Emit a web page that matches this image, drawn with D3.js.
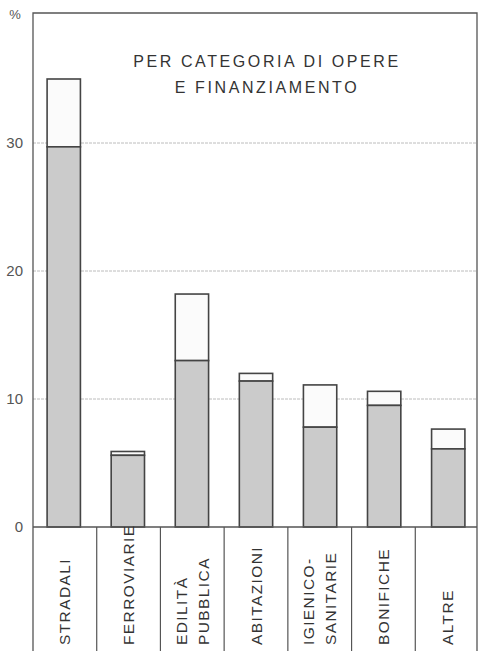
<!DOCTYPE html>
<html><head><meta charset="utf-8">
<script src="https://cdn.jsdelivr.net/npm/d3@7"></script>
<style>
html,body{margin:0;padding:0;background:#fff;}
svg text{font-family:"Liberation Sans",Arial,sans-serif;}
</style></head>
<body>
<svg id="c" width="484" height="651"></svg>
<script>
const categories = ["STRADALI","FERROVIARIE","EDILITÀ\nPUBBLICA","ABITAZIONI","IGIENICO-\nSANITARIE","BONIFICHE","ALTRE"];
const baseValues  = [29.7, 5.6, 13.0, 11.4, 7.8, 9.5, 6.1];   // grey part
const totalValues = [35.0, 5.9, 18.2, 12.0, 11.1, 10.6, 7.65]; // full bar height
const yTicks = [0, 10, 20, 30];
const titleLines = ["PER CATEGORIA DI OPERE", "E FINANZIAMENTO"];

const svg = d3.select("#c");
const W = 484, H = 651;
const mLeft = 33, mRight = 477, mTop = 13, base = 527;

const y = d3.scaleLinear().domain([0, 30]).range([base, 143]);
const xCell = d3.scaleBand().domain(categories).range([mLeft, 479]).padding(0);
const xBar = d3.scaleBand().domain(categories).range([mLeft, 479]).paddingInner(0.48).paddingOuter(0.22);

// gridlines
const grid = svg.append("g");
grid.selectAll("line").data(yTicks.filter(d => d > 0)).join("line")
  .attr("x1", mLeft).attr("x2", mRight)
  .attr("y1", d => y(d)).attr("y2", d => y(d))
  .attr("stroke", "#bcbcbc").attr("stroke-width", 1).attr("stroke-dasharray", "3,1");

// y axis labels
const yAxis = d3.axisLeft(y).tickValues(yTicks).tickSize(0).tickPadding(10);
const ya = svg.append("g").attr("transform", `translate(${mLeft},0)`).call(yAxis);
ya.select(".domain").remove();
ya.selectAll("text").attr("font-size", 15).attr("fill", "#555").attr("font-family", "Liberation Sans, Arial, sans-serif");

svg.append("text").attr("x", 15).attr("y", 19).attr("text-anchor", "middle")
  .attr("font-size", 13).attr("fill", "#555").text("%");

// bars
const bars = svg.append("g");
const data = categories.map((c, i) => ({c, b: baseValues[i], t: totalValues[i]}));
bars.selectAll("rect.top").data(data).join("rect").attr("class", "top")
  .attr("x", d => xBar(d.c)).attr("width", xBar.bandwidth())
  .attr("y", d => y(d.t)).attr("height", d => y(d.b) - y(d.t))
  .attr("fill", "#fbfbfb").attr("stroke", "#444").attr("stroke-width", 1.6);
bars.selectAll("rect.base").data(data).join("rect").attr("class", "base")
  .attr("x", d => xBar(d.c)).attr("width", xBar.bandwidth())
  .attr("y", d => y(d.b)).attr("height", d => base - y(d.b))
  .attr("fill", "#cbcbcb").attr("stroke", "#444").attr("stroke-width", 1.6);

// frame
svg.append("path")
  .attr("d", `M${mLeft},${H} V${mTop} H${mRight} V${H}`)
  .attr("fill", "none").attr("stroke", "#555").attr("stroke-width", 1.3);
svg.append("line").attr("x1", mLeft).attr("x2", mRight).attr("y1", base).attr("y2", base)
  .attr("stroke", "#555").attr("stroke-width", 1.5);

// category cells separators
svg.append("g").selectAll("line").data(categories.slice(1)).join("line")
  .attr("x1", d => xCell(d)).attr("x2", d => xCell(d))
  .attr("y1", base).attr("y2", H)
  .attr("stroke", "#555").attr("stroke-width", 1.2);

// category labels (rotated, bottom-aligned)
const labG = svg.append("g");
data.forEach(d => {
  const lines = d.c.split("\n");
  const cx = xCell(d.c) + xCell.bandwidth() / 2;
  lines.forEach((ln, j) => {
    const off = (j - (lines.length - 1) / 2) * 22;
    labG.append("text")
      .attr("transform", `translate(${cx + off + 5.5},645) rotate(-90)`)
      .attr("text-anchor", "start")
      .attr("font-size", 15.5).attr("fill", "#333")
      .style("letter-spacing", "1.4px")
      .text(ln);
  });
});

// title
svg.append("g").selectAll("text").data(titleLines).join("text")
  .attr("x", 267).attr("y", (d, i) => 67 + i * 26)
  .attr("text-anchor", "middle")
  .attr("font-size", 16).attr("fill", "#333")
  .style("letter-spacing", "2.6px")
  .text(d => d);
</script>
</body></html>
